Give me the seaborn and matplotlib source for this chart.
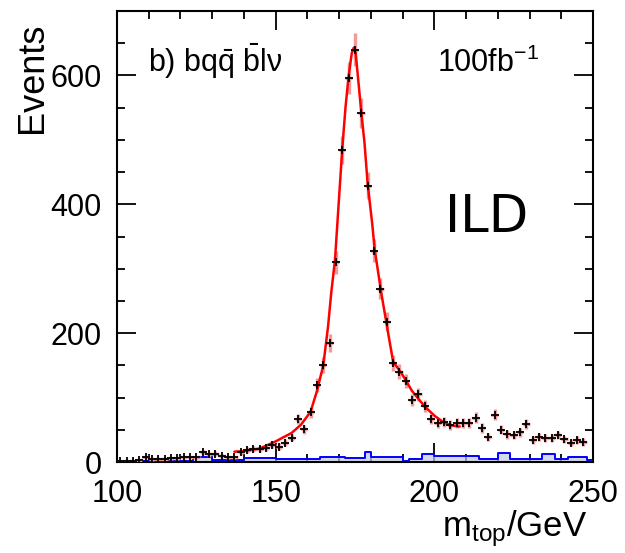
import numpy as np
import pandas as pd
import matplotlib
matplotlib.use("Agg")
import matplotlib.pyplot as plt
import seaborn as sns
from matplotlib.ticker import MultipleLocator

# ---------------- data ----------------
bin_edges = np.arange(100, 252, 2)          # 2 GeV bins, 100..250
data_mass = np.arange(101, 249, 2)          # bin centres of the data points
data_events = [1, 2, 1, 3, 7, 4, 5, 5, 6, 6,
               7, 7, 7, 15, 12, 13, 10, 7, 7, 15,
               19, 20, 20, 22, 27, 24, 30, 38, 67, 51,
               77, 119, 151, 185, 310, 484, 596, 640, 541, 429,
               328, 269, 218, 154, 140, 126, 96, 105, 87, 67,
               61, 62, 57, 60, 61, 61, 69, 53, 39, 73,
               50, 43, 42, 46, 59, 34, 39, 37, 37, 42,
               35, 30, 34, 31]

bkg_events = [2, 2, 2, 3, 2, 2, 3, 2, 2, 2, 2, 2,
              8, 8, 8,
              3, 3, 3, 3, 3,
              6, 6, 6, 6, 6,
              5, 5, 5, 5, 5, 5, 5,
              8, 8, 8, 8,
              6, 6, 6,
              15,
              8, 8, 8, 8, 8,
              1,
              5, 5,
              12, 12,
              9, 9, 9, 9, 9, 9, 9,
              5, 5, 5,
              14, 14,
              5, 5, 5, 5, 5,
              13, 13,
              5, 5,
              8, 8, 8,
              3]

fit_mass = [137, 140, 145, 150, 155, 158, 161, 163, 165, 166.5, 167.5, 168.7,
            169.8, 171, 172, 173, 174, 174.6, 175.2, 176, 177, 178, 179, 180.4,
            181.2, 183.3, 185.1, 187, 190, 193, 197, 200, 202.5, 205, 208]
fit_events = [16, 17, 21, 32, 45, 58, 78, 110, 150, 210, 262, 314,
              397, 487, 550, 600, 635, 643, 635, 594, 542, 495, 431, 371,
              330, 262, 210, 156, 135, 110, 86, 72, 63, 57, 55]

x_ticks = [100, 150, 200, 250]
y_ticks = [0, 200, 400, 600]

# ---------------- style ----------------
sns.set_style("ticks")
plt.rcParams["font.family"] = ["Liberation Sans", "DejaVu Sans"]
plt.rcParams["mathtext.fontset"] = "custom"
plt.rcParams["mathtext.rm"] = "Liberation Sans"
plt.rcParams["mathtext.it"] = "Liberation Sans:italic"
plt.rcParams["mathtext.bf"] = "Liberation Sans:bold"
plt.rcParams["text.color"] = "black"
plt.rcParams["axes.labelcolor"] = "black"
plt.rcParams["xtick.color"] = "black"
plt.rcParams["ytick.color"] = "black"

fig = plt.figure(figsize=(6.25, 5.53), dpi=100)
ax = fig.add_axes([117 / 625, 1 - 462 / 553, 476 / 625, 451 / 553])

# background histogram (blue)
bkg_centres = (bin_edges[:-1] + bin_edges[1:]) / 2
bkg_df = pd.DataFrame({"m": bkg_centres, "w": np.array(bkg_events, dtype=float)})
ax.fill_between(bin_edges, np.r_[bkg_events, bkg_events[-1]], step="post",
                color="#c4c8e4", alpha=0.7, lw=0, zorder=1)
sns.histplot(data=bkg_df, x="m", weights="w", binwidth=2, binrange=(100, 250),
             element="step", fill=False, color="#0000ff", linewidth=1.4, ax=ax)

# data points: pink error bars and black crosses
data_err = np.sqrt(np.array(data_events, dtype=float))
ax.errorbar(data_mass, data_events, yerr=data_err, xerr=1.0, fmt="none",
            ecolor="#f29a9a", elinewidth=2.4, capsize=0, zorder=3)

# fit curve (red)
fit_df = pd.DataFrame({"m": fit_mass, "n": fit_events})
sns.lineplot(data=fit_df, x="m", y="n", color="#ff0000", linewidth=1.8, ax=ax,
             zorder=4, sort=True)

data_df = pd.DataFrame({"m": data_mass, "n": data_events})
sns.scatterplot(data=data_df, x="m", y="n", marker="+", s=30, color="black",
                linewidth=1.3, ax=ax, zorder=5)

# axes
ax.set_xlim(100, 250)
ax.set_ylim(0, 700)
ax.set_xticks(x_ticks)
ax.set_yticks(y_ticks)
ax.xaxis.set_minor_locator(MultipleLocator(10))
ax.yaxis.set_minor_locator(MultipleLocator(50))
ax.tick_params(which="both", direction="in", top=True, right=True,
               width=1.3, color="black", labelcolor="black")
ax.tick_params(which="major", length=14)
ax.tick_params(which="minor", length=6)
ax.tick_params(axis="x", which="major", labelsize=22, pad=12)
ax.tick_params(axis="y", which="major", labelsize=22, pad=11)
for sp in ax.spines.values():
    sp.set_linewidth(1.5)
    sp.set_color("black")

ax.set_ylabel("Events", fontsize=26, loc="top", color="black")
ax.yaxis.set_label_coords(-0.141, 0.975)
ax.set_xlabel(r"m$_{\mathrm{top}}$/GeV", fontsize=25, loc="right", color="black")
ax.xaxis.set_label_coords(0.987, -0.102)

ax.text(109.8, 605, r"b) bq$\bar{\mathrm{q}}$ $\bar{\mathrm{b}}$lν", fontsize=22,
        ha="left", va="baseline", color="black")
ax.text(200.9, 605, r"100fb$^{\mathrm{-1}}$", fontsize=22, ha="left",
        va="baseline", color="black")
ax.text(203.4, 357, "ILD", fontsize=37, family="DejaVu Sans", ha="left",
        va="baseline", color="black")

fig.savefig("out.png", dpi=100)
